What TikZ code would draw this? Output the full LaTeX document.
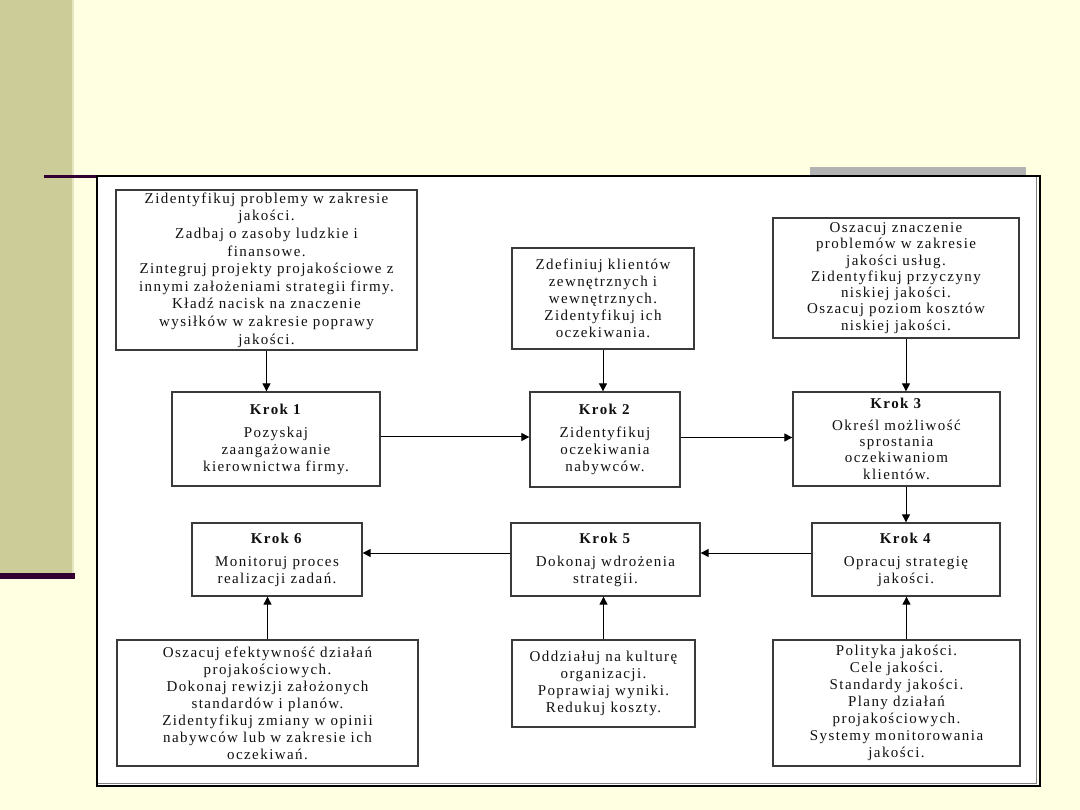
\documentclass[tikz,border=0pt]{standalone}
\usepackage{fontspec}
\setmainfont{Liberation Serif}[LetterSpace=9.5]
\usetikzlibrary{arrows.meta}
\definecolor{bgy}{HTML}{FFFFE1}
\definecolor{khaki}{HTML}{CCCC99}
\definecolor{khakilt}{HTML}{E6E6BE}
\definecolor{plum}{HTML}{330033}
\definecolor{grbar}{HTML}{B2B2B2}
\definecolor{bord}{HTML}{3A3A3A}
\definecolor{txt}{HTML}{101010}
\begin{document}
\begin{tikzpicture}[x=1pt,y=-1pt,
  box/.style={draw=bord, line width=1.3pt, fill=white, align=center, inner sep=0pt,
    font=\fontsize{15}{17}\selectfont, text=txt},
  tight/.style={font=\fontsize{15}{16.3}\selectfont},
  loose/.style={font=\fontsize{15}{17.6}\selectfont},
  arr/.style={draw=black, line width=1pt, -{Triangle[length=8pt,width=8pt]}},
  bar/.style={fill=plum, draw=none}
]
% background and slide decorations
\fill[bgy] (0,0) rectangle (1080,810);
\useasboundingbox (0,0) rectangle (1080,810);
\fill[khaki] (0,0) rectangle (72,573);
\fill[khakilt] (72,0) rectangle (74,573);
\fill[grbar] (810,167) rectangle (1026,175);
\fill[bar] (44,175) rectangle (97,178);
\fill[bar] (0,573) rectangle (75,579);
% picture frame
\fill[white] (97,176) rectangle (1038,785);
\draw[gray, line width=1pt] (1036,176) -- (1036,783) -- (97,783);
\draw[black, line width=1.2pt] (97,176) rectangle (1040,786);

% top info boxes
\node[box, loose, minimum width=301pt, minimum height=160pt] (A) at (266.5,270)
  {Zidentyfikuj problemy w zakresie\\ jakości.\\ Zadbaj o zasoby ludzkie i\\ finansowe.\\
   Zintegruj projekty projakościowe z\\ innymi założeniami strategii firmy.\\
   Kładź nacisk na znaczenie\\ wysiłków w zakresie poprawy\\ jakości.};
\node[box, minimum width=182pt, minimum height=101pt] (B) at (603,298.5)
  {Zdefiniuj klientów\\ zewnętrznych i\\ wewnętrznych.\\ Zidentyfikuj ich\\ oczekiwania.};
\node[box, tight, minimum width=246pt, minimum height=120pt] (C) at (896,278)
  {Oszacuj znaczenie\\ problemów w zakresie\\ jakości usług.\\ Zidentyfikuj przyczyny\\
   niskiej jakości.\\ Oszacuj poziom kosztów\\ niskiej jakości.};

% steps
\node[box, minimum width=208pt, minimum height=94pt] (K1) at (276,439)
  {\textbf{Krok 1}\\[6pt] Pozyskaj\\ zaangażowanie\\ kierownictwa firmy.};
\node[box, minimum width=150pt, minimum height=95pt] (K2) at (605,439.5)
  {\textbf{Krok 2}\\[6pt] Zidentyfikuj\\ oczekiwania\\ nabywców.};
\node[box, tight, minimum width=207pt, minimum height=94pt] (K3) at (896.5,439)
  {\textbf{Krok 3}\\[5pt] Określ możliwość\\ sprostania\\ oczekiwaniom\\ klientów.};
\node[box, minimum width=188pt, minimum height=73pt] (K4) at (906,559.5)
  {\textbf{Krok 4}\\[6pt] Opracuj strategię\\ jakości.};
\node[box, minimum width=189pt, minimum height=73pt] (K5) at (605.5,559.5)
  {\textbf{Krok 5}\\[6pt] Dokonaj wdrożenia\\ strategii.};
\node[box, minimum width=170pt, minimum height=73pt] (K6) at (277,559.5)
  {\textbf{Krok 6}\\[6pt] Monitoruj proces\\ realizacji zadań.};

% bottom info boxes
\node[box, minimum width=301pt, minimum height=126pt] (D) at (267.5,703)
  {Oszacuj efektywność działań\\ projakościowych.\\ Dokonaj rewizji założonych\\
   standardów i planów.\\ Zidentyfikuj zmiany w opinii\\ nabywców lub w zakresie ich\\ oczekiwań.};
\node[box, minimum width=183pt, minimum height=87pt] (E) at (603.5,683.5)
  {Oddziałuj na kulturę\\ organizacji.\\ Poprawiaj wyniki.\\ Redukuj koszty.};
\node[box, minimum width=247pt, minimum height=126pt] (F) at (896.5,703)
  {Polityka jakości.\\ Cele jakości.\\ Standardy jakości.\\ Plany działań\\
   projakościowych.\\ Systemy monitorowania\\ jakości.};

% connectors
\draw[arr] (A.south) -- (A.south |- K1.north);
\draw[arr] (B.south) -- (B.south |- K2.north);
\draw[arr] ([xshift=10pt]C.south) -- ([xshift=10pt]C.south |- K3.north);
\draw[arr] ([yshift=2pt]K1.east) -- ([yshift=2pt]K1.east -| K2.west);
\draw[arr] ([yshift=2pt]K2.east) -- ([yshift=2pt]K2.east -| K3.west);
\draw[arr] (K4.north |- K3.south) -- (K4.north);
\draw[arr] ([yshift=6.5pt]K4.west) -- ([yshift=6.5pt]K4.west -| K5.east);
\draw[arr] ([yshift=6.5pt]K5.west) -- ([yshift=6.5pt]K5.west -| K6.east);
\draw[arr] (D.north) -- (D.north |- K6.south);
\draw[arr] (E.north) -- (E.north |- K5.south);
\draw[arr] ([xshift=10pt]F.north) -- ([xshift=10pt]F.north |- K4.south);
\end{tikzpicture}
\end{document}
